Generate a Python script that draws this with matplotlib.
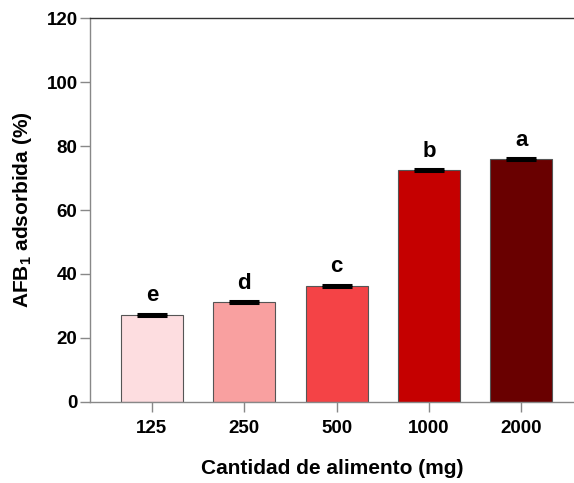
import numpy as np
import matplotlib
matplotlib.use("Agg")
import matplotlib.pyplot as plt

# ── data
doses = ['125', '250', '500', '1000', '2000']
adsorbed = [27.3, 31.3, 36.3, 72.5, 75.9]
errors = [0.3, 0.3, 0.4, 0.3, 0.3]
letters = ['e', 'd', 'c', 'b', 'a']
colors = ['#FDDDE0', '#F9A0A0', '#F44346', '#C50000', '#690000']

plt.rcParams['font.family'] = ['Liberation Sans', 'DejaVu Sans']
plt.rcParams['font.weight'] = 'bold'
plt.rcParams['mathtext.fontset'] = 'custom'
plt.rcParams['mathtext.rm'] = 'Liberation Sans:bold'
plt.rcParams['mathtext.it'] = 'Liberation Sans:bold'
plt.rcParams['mathtext.bf'] = 'Liberation Sans:bold'

fig = plt.figure(figsize=(5.74, 4.83), dpi=100)
ax = fig.add_axes([90 / 574, 81 / 483, 1.0 - 90 / 574, 384 / 483])

x = np.arange(len(doses))
ax.bar(x, adsorbed, width=0.67, color=colors, edgecolor='#555555', linewidth=0.8, zorder=2)
ax.errorbar(x, adsorbed, yerr=errors, fmt='none', ecolor='black',
            elinewidth=1.5, capsize=10.5, capthick=2.2, zorder=3)

for xi, v, e, lab in zip(x, adsorbed, errors, letters):
    ax.text(xi, v + e + 2.3, lab, ha='center', va='bottom', fontsize=16, fontweight='bold')

ax.set_xlim(-0.67, 4.57)
ax.set_ylim(0, 120)
ax.set_yticks([0, 20, 40, 60, 80, 100, 120])
ax.set_xticks(x)
ax.set_xticklabels(doses)

for side in ['left', 'bottom']:
    ax.spines[side].set_color('#888888')
    ax.spines[side].set_linewidth(1.0)
ax.spines['top'].set_color('#333333')
ax.spines['top'].set_linewidth(1.0)
ax.spines['right'].set_visible(False)

ax.tick_params(axis='both', direction='out', color='#888888', width=1.0,
               length=7, labelsize=13.5)
ax.tick_params(axis='x', pad=6)
ax.tick_params(axis='y', pad=2)

ax.set_ylabel('AFB$_1$ adsorbida (%)', fontsize=15, fontweight='bold', labelpad=9)
ax.set_xlabel('Cantidad de alimento (mg)', fontsize=15, fontweight='bold', labelpad=16)

fig.savefig('out.png', dpi=100)
